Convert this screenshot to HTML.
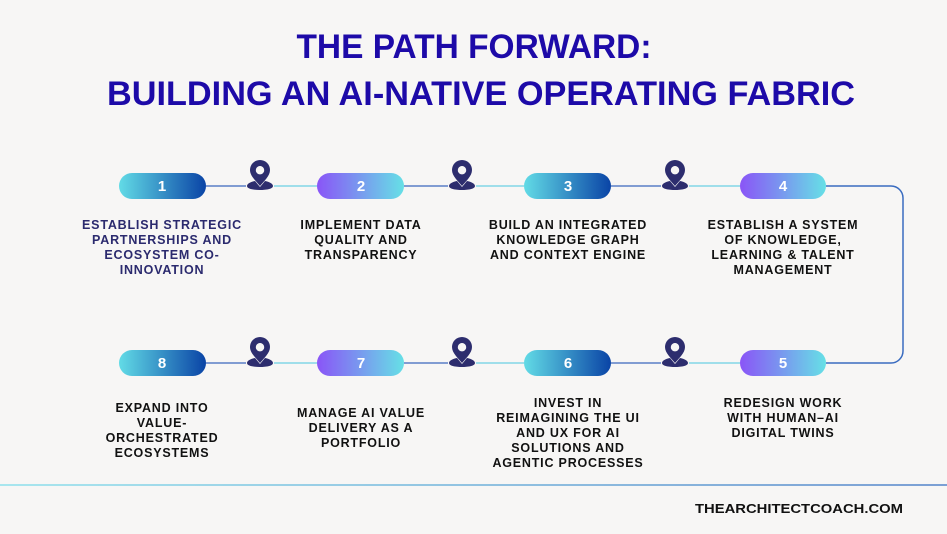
<!DOCTYPE html>
<html><head><meta charset="utf-8"><style>
html,body{margin:0;padding:0;background:#f7f6f5;}
svg{display:block;}
.t{font-family:"Liberation Sans",sans-serif;font-weight:bold;font-size:12.5px;letter-spacing:0.8px;text-anchor:middle;fill:#111;}
.n{font-family:"Liberation Sans",sans-serif;font-weight:bold;font-size:15px;fill:#fff;text-anchor:middle;}
.h{font-family:"Liberation Sans",sans-serif;font-weight:bold;font-size:34px;fill:#1d0aa8;text-anchor:middle;}
</style></head><body>
<svg width="947" height="534" viewBox="0 0 947 534" xmlns="http://www.w3.org/2000/svg">
<defs>
<linearGradient id="gA" x1="0" x2="1"><stop offset="0" stop-color="#62dbe6"/><stop offset="1" stop-color="#0a44a6"/></linearGradient>
<linearGradient id="gB" x1="0" x2="1"><stop offset="0" stop-color="#8a55f7"/><stop offset="1" stop-color="#66e0e6"/></linearGradient>
<linearGradient id="gF" x1="0" x2="1"><stop offset="0" stop-color="#a8e6ee"/><stop offset="1" stop-color="#7b9fd4"/></linearGradient>
<g id="pin"><path d="M0,-22 a10,10 0 0 1 10,10 c0,6 -6,11 -10,16 c-4,-5 -10,-10 -10,-16 a10,10 0 0 1 10,-10z M0,-16 a4.2,4.2 0 1 0 0.01,0z" fill="#2d2d6e" fill-rule="evenodd"/><path d="M-5,-1 L0,5 L5,-1 C10,0 13,2 13,4 C13,7 6,8 0,8 C-6,8 -13,7 -13,4 C-13,2 -10,0 -5,-1z" fill="#2d2d6e"/></g>
</defs>
<text class="h" x="474" y="58" textLength="355" lengthAdjust="spacingAndGlyphs">THE PATH FORWARD:</text>
<text class="h" x="481" y="105" textLength="748" lengthAdjust="spacingAndGlyphs">BUILDING AN AI-NATIVE OPERATING FABRIC</text>

<!-- row 1 lines -->
<g stroke-width="1.5" fill="none">
<line x1="206" y1="186" x2="246" y2="186" stroke="#5a7ec6"/><line x1="274" y1="186" x2="317" y2="186" stroke="#82d6e6"/>
<line x1="404" y1="186" x2="448" y2="186" stroke="#5a7ec6"/><line x1="476" y1="186" x2="524" y2="186" stroke="#82d6e6"/>
<line x1="611" y1="186" x2="661" y2="186" stroke="#5a7ec6"/><line x1="689" y1="186" x2="740" y2="186" stroke="#82d6e6"/>
<line x1="206" y1="363" x2="246" y2="363" stroke="#5a7ec6"/><line x1="274" y1="363" x2="317" y2="363" stroke="#82d6e6"/>
<line x1="404" y1="363" x2="448" y2="363" stroke="#5a7ec6"/><line x1="476" y1="363" x2="524" y2="363" stroke="#82d6e6"/>
<line x1="611" y1="363" x2="661" y2="363" stroke="#5a7ec6"/><line x1="689" y1="363" x2="740" y2="363" stroke="#82d6e6"/>
<path d="M826,186 H891 a12,12 0 0 1 12,12 V351 a12,12 0 0 1 -12,12 H826" stroke="#3a6cc0"/>
</g>
<use href="#pin" x="260" y="182"/><use href="#pin" x="462" y="182"/><use href="#pin" x="675" y="182"/>
<use href="#pin" x="260" y="359"/><use href="#pin" x="462" y="359"/><use href="#pin" x="675" y="359"/>

<rect x="119" y="173" width="87" height="26" rx="13" fill="url(#gA)"/><text class="n" x="162" y="191">1</text>
<rect x="317" y="173" width="87" height="26" rx="13" fill="url(#gB)"/><text class="n" x="361" y="191">2</text>
<rect x="524" y="173" width="87" height="26" rx="13" fill="url(#gA)"/><text class="n" x="568" y="191">3</text>
<rect x="740" y="173" width="86" height="26" rx="13" fill="url(#gB)"/><text class="n" x="783" y="191">4</text>
<rect x="119" y="350" width="87" height="26" rx="13" fill="url(#gA)"/><text class="n" x="162" y="368">8</text>
<rect x="317" y="350" width="87" height="26" rx="13" fill="url(#gB)"/><text class="n" x="361" y="368">7</text>
<rect x="524" y="350" width="87" height="26" rx="13" fill="url(#gA)"/><text class="n" x="568" y="368">6</text>
<rect x="740" y="350" width="86" height="26" rx="13" fill="url(#gB)"/><text class="n" x="783" y="368">5</text>

<g class="t">
<text class="t" style="fill:#2b2a6e" x="162" y="229">ESTABLISH STRATEGIC</text>
<text class="t" style="fill:#2b2a6e" x="162" y="244">PARTNERSHIPS AND</text>
<text class="t" style="fill:#2b2a6e" x="162" y="259">ECOSYSTEM CO-</text>
<text class="t" style="fill:#2b2a6e" x="162" y="274">INNOVATION</text>
<text class="t" x="361" y="229">IMPLEMENT DATA</text>
<text class="t" x="361" y="244">QUALITY AND</text>
<text class="t" x="361" y="259">TRANSPARENCY</text>
<text class="t" x="568" y="229">BUILD AN INTEGRATED</text>
<text class="t" x="568" y="244">KNOWLEDGE GRAPH</text>
<text class="t" x="568" y="259">AND CONTEXT ENGINE</text>
<text class="t" x="783" y="229">ESTABLISH A SYSTEM</text>
<text class="t" x="783" y="244">OF KNOWLEDGE,</text>
<text class="t" x="783" y="259">LEARNING &amp; TALENT</text>
<text class="t" x="783" y="274">MANAGEMENT</text>
<text class="t" x="162" y="412">EXPAND INTO</text>
<text class="t" x="162" y="427">VALUE-</text>
<text class="t" x="162" y="442">ORCHESTRATED</text>
<text class="t" x="162" y="457">ECOSYSTEMS</text>
<text class="t" x="361" y="417">MANAGE AI VALUE</text>
<text class="t" x="361" y="432">DELIVERY AS A</text>
<text class="t" x="361" y="447">PORTFOLIO</text>
<text class="t" x="568" y="407">INVEST IN</text>
<text class="t" x="568" y="422">REIMAGINING THE UI</text>
<text class="t" x="568" y="437">AND UX FOR AI</text>
<text class="t" x="568" y="452">SOLUTIONS AND</text>
<text class="t" x="568" y="467">AGENTIC PROCESSES</text>
<text class="t" x="783" y="407">REDESIGN WORK</text>
<text class="t" x="783" y="422">WITH HUMAN–AI</text>
<text class="t" x="783" y="437">DIGITAL TWINS</text>
</g>
<rect x="0" y="484" width="947" height="2" fill="url(#gF)"/>
<text x="799" y="513" style="font-family:'Liberation Sans',sans-serif;font-weight:bold;font-size:12.5px;fill:#111;text-anchor:middle" textLength="208" lengthAdjust="spacingAndGlyphs">THEARCHITECTCOACH.COM</text>
</svg>
</body></html>
